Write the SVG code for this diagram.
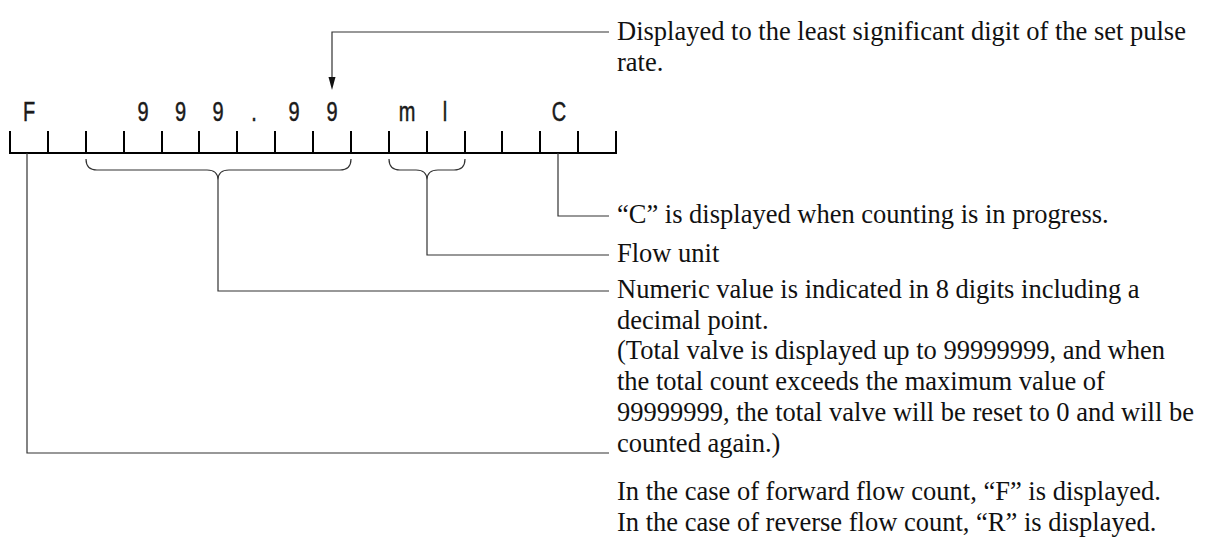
<svg xmlns="http://www.w3.org/2000/svg" width="1210" height="554" viewBox="0 0 1210 554">
<style>
.lbl{font-family:"Liberation Serif","Times New Roman",serif;font-size:26.5px;fill:#111}
.ch{font-family:"Liberation Sans",Arial,sans-serif;font-size:27px;fill:#1a1a1a;stroke:#1a1a1a;stroke-width:0.5;text-anchor:middle}
.scale{stroke:#000;stroke-width:2;fill:none}
.lead{stroke:#333;stroke-width:1.2;fill:none}
</style>
<rect width="1210" height="554" fill="#fff"/>
<g id="display">
  <path class="scale" d="M9,153 H617 M10,131 V153 M48,131 V153 M86,131 V153 M124,131 V153 M162,131 V153 M199,131 V153 M237,131 V153 M275,131 V153 M313,131 V153 M351,131 V153 M389,131 V153 M427,131 V153 M465,131 V153 M502,131 V153 M540,131 V153 M578,131 V153 M616,131 V153"/>
  <text class="ch" transform="translate(29,121) scale(0.74,1)">F</text>
  <text class="ch" transform="translate(143,121) scale(0.74,1)">9</text>
  <text class="ch" transform="translate(180.5,121) scale(0.74,1)">9</text>
  <text class="ch" transform="translate(218,121) scale(0.74,1)">9</text>
  <text class="ch" transform="translate(254,121) scale(0.74,1)">.</text>
  <text class="ch" transform="translate(294,121) scale(0.74,1)">9</text>
  <text class="ch" transform="translate(332,121) scale(0.74,1)">9</text>
  <text class="ch" transform="translate(407,121) scale(0.74,1)">m</text>
  <text class="ch" transform="translate(445,121) scale(0.74,1)">l</text>
  <text class="ch" transform="translate(559,121) scale(0.74,1)">C</text>
  <path class="lead" d="M86,159 Q86,170 97,170 H207 Q218,170 218,180 Q218,170 229,170 H340 Q351,170 351,159"/>
  <path class="lead" d="M389,159 Q389,170 400,170 H416 Q427,170 427,180 Q427,170 438,170 H454 Q465,170 465,159"/>
</g>
<g id="connectors">
  <path class="lead" d="M609,32 H332 V78"/>
  <polygon points="328.5,77 335.5,77 332,90" fill="#111"/>
  <path class="lead" d="M558,153 V216 H609"/>
  <path class="lead" d="M427,180 V255 H609"/>
  <path class="lead" d="M218,180 V291 H609"/>
  <path class="lead" d="M27,153 V453 H609"/>
</g>
<g id="note-pulse">
  <text class="lbl" x="617" y="40">Displayed to the least significant digit of the set pulse</text>
  <text class="lbl" x="617" y="71">rate.</text>
</g>
<g id="note-c">
  <text class="lbl" x="617" y="223">“C” is displayed when counting is in progress.</text>
</g>
<g id="note-unit">
  <text class="lbl" x="617" y="262">Flow unit</text>
</g>
<g id="note-numeric">
  <text class="lbl" x="617" y="298">Numeric value is indicated in 8 digits including a</text>
  <text class="lbl" x="617" y="328.7">decimal point.</text>
  <text class="lbl" x="617" y="359.4">(Total valve is displayed up to 99999999, and when</text>
  <text class="lbl" x="617" y="390.1">the total count exceeds the maximum value of</text>
  <text class="lbl" x="617" y="420.8">99999999, the total valve will be reset to 0 and will be</text>
  <text class="lbl" x="617" y="451.5">counted again.)</text>
</g>
<g id="note-direction">
  <text class="lbl" x="617" y="500">In the case of forward flow count, “F” is displayed.</text>
  <text class="lbl" x="617" y="530.7">In the case of reverse flow count, “R” is displayed.</text>
</g>
</svg>
